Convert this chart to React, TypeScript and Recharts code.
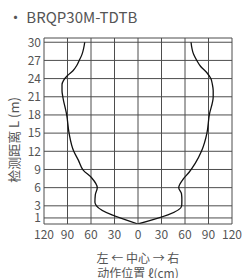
import {
  LineChart,
  Line,
  XAxis,
  YAxis,
  ReferenceLine,
} from "recharts";

// detection area outline (x in cm, y in m)
const leftX = [0, -53, -55, -54.5, -52, -59, -70, -76, -82, -88, -91, -96, -97, -97, -95, -90, -83, -78, -75, -71.5, -68];
const leftY = [0, 3, 3.6, 4.8, 6, 7.6, 8.9, 10.5, 12, 15, 18, 21, 22, 23, 23.7, 24.5, 25.3, 26.2, 27, 28, 30];
const rightX = [0, 55.8, 56, 55.5, 52, 57, 65, 73, 81, 88, 91, 96, 96, 95, 93, 87.7, 80, 75, 71, 67.7];
const rightY = [0, 3, 4, 5, 6, 7.3, 8.5, 10, 12, 15, 18, 21, 22, 23, 24, 25, 26, 27, 28, 30];

const xTicks = [-120, -90, -60, -30, 0, 30, 60, 90, 120];
const yTicks = [1, 3, 6, 9, 12, 15, 18, 21, 24, 27, 30];
const yTop = 30.7;

const leftData = leftX.map((x, i) => ({ x, y: leftY[i] }));
const rightData = rightX.map((x, i) => ({ x, y: rightY[i] }));

const font = '"Noto Sans CJK SC", "Noto Sans", sans-serif';
const textColor = "#555";
const gridColor = "#4d4d4d";

export default function App() {
  return (
    <div
      style={{
        position: "absolute",
        left: 0,
        top: 0,
        width: 245,
        height: 278,
        fontFamily: font,
        color: textColor,
        background: "#fff",
      }}
    >
      <div
        style={{
          position: "absolute",
          left: 8,
          top: 6,
          fontSize: 15,
          lineHeight: "22px",
          whiteSpace: "nowrap",
        }}
      >
        • BRQP30M-TDTB
      </div>
      <LineChart
        layout="vertical"
        width={245}
        height={278}
        margin={{ top: 38, right: 13, bottom: 34, left: 24 }}
        style={{ position: "absolute", left: 0, top: 0 }}
      >
        <XAxis
          type="number"
          domain={[-120, 120]}
          ticks={xTicks}
          interval={0}
          tickFormatter={(v: number) => String(Math.abs(v))}
          tick={{ fill: textColor, fontSize: 12, fontFamily: font }}
          tickLine={false}
          tickSize={0}
          tickMargin={6}
          axisLine={{ stroke: gridColor }}
          height={20}
        />
        <YAxis
          type="number"
          dataKey="y"
          domain={[0, yTop]}
          ticks={yTicks}
          interval={0}
          reversed
          tick={{ fill: textColor, fontSize: 12, fontFamily: font }}
          tickLine={false}
          tickSize={0}
          tickMargin={3}
          axisLine={false}
          width={20}
          allowDataOverflow
        />
        {xTicks.map((t) => (
          <ReferenceLine key={"vx" + t} x={t} stroke={gridColor} />
        ))}
        {yTicks.map((t) => (
          <ReferenceLine key={"hy" + t} y={t} stroke={gridColor} />
        ))}
        <ReferenceLine y={yTop} stroke={gridColor} />
        <Line
          data={leftData}
          dataKey="x"
          type="monotoneY"
          stroke="#111"
          strokeWidth={1.3}
          dot={false}
          isAnimationActive={false}
        />
        <Line
          data={rightData}
          dataKey="x"
          type="monotoneY"
          stroke="#111"
          strokeWidth={1.3}
          dot={false}
          isAnimationActive={false}
        />
      </LineChart>
      <div
        style={{
          position: "absolute",
          left: 13,
          top: 140,
          transform: "translate(-50%, -50%) rotate(-90deg)",
          fontSize: 13,
          whiteSpace: "nowrap",
          lineHeight: "15px",
        }}
      >
        检测距离 L (m)
      </div>
      <div
        style={{
          position: "absolute",
          left: 138,
          top: 256.5,
          transform: "translate(-50%, -50%)",
          fontSize: 12,
          whiteSpace: "nowrap",
          lineHeight: "13px",
        }}
      >
        左 ← 中心 → 右
      </div>
      <div
        style={{
          position: "absolute",
          left: 138,
          top: 271.5,
          transform: "translate(-50%, -50%)",
          fontSize: 12,
          whiteSpace: "nowrap",
          lineHeight: "13px",
        }}
      >
        动作位置 ℓ(cm)
      </div>
    </div>
  );
}
